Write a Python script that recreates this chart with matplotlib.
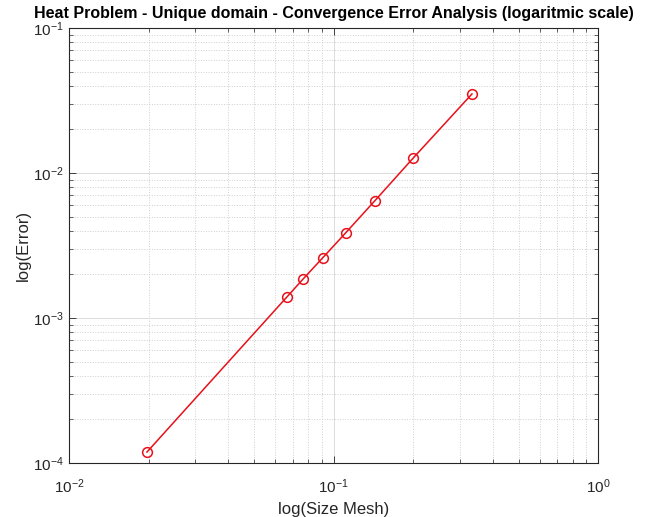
import matplotlib.pyplot as plt

# mesh sizes h and the corresponding errors
size_mesh = [0.0197, 1 / 15, 1 / 13, 1 / 11, 1 / 9, 1 / 7, 1 / 5, 1 / 3]
error = [1.19e-4, 1.40e-3, 1.87e-3, 2.60e-3, 3.87e-3, 6.41e-3, 1.27e-2, 3.51e-2]

plt.rcParams["font.family"] = ["Liberation Sans", "DejaVu Sans"]


def main():
    fig = plt.figure(figsize=(6.53, 5.17), dpi=100)
    ax = fig.add_axes([0.1057, 0.1044, 0.8104, 0.8414])

    ax.loglog(size_mesh, error, color="#e8101a", linewidth=1.1,
              marker="o", markersize=7, markerfacecolor="none",
              markeredgewidth=1.1)

    ax.set_xlim(1e-2, 1e0)
    ax.set_ylim(1e-4, 1e-1)

    ax.grid(True, which="major", color="#dcdcdc", linestyle="-", linewidth=0.7)
    ax.grid(True, which="minor", color="#cfcfcf", linestyle=":", linewidth=0.7)
    ax.set_axisbelow(True)

    for side in ax.spines.values():
        side.set_color("#262626")
        side.set_linewidth(0.8)
    ax.tick_params(which="both", direction="in", top=True, right=True,
                   colors="#262626", labelsize=11)
    ax.tick_params(which="major", length=5, width=0.6)
    ax.tick_params(which="minor", length=3, width=0.5)
    ax.tick_params(axis="x", pad=10)

    ax.set_xlabel("log(Size Mesh)", fontsize=12, color="#262626", labelpad=5)
    ax.set_ylabel("log(Error)", fontsize=12, color="#262626", labelpad=2)
    ax.set_title("Heat Problem - Unique domain - Convergence Error Analysis (logaritmic scale)",
                 fontsize=11.5, fontweight="bold", pad=7)

    fig.savefig("out.png", dpi=100, facecolor="white")
    plt.close(fig)


if __name__ == "__main__":
    main()
